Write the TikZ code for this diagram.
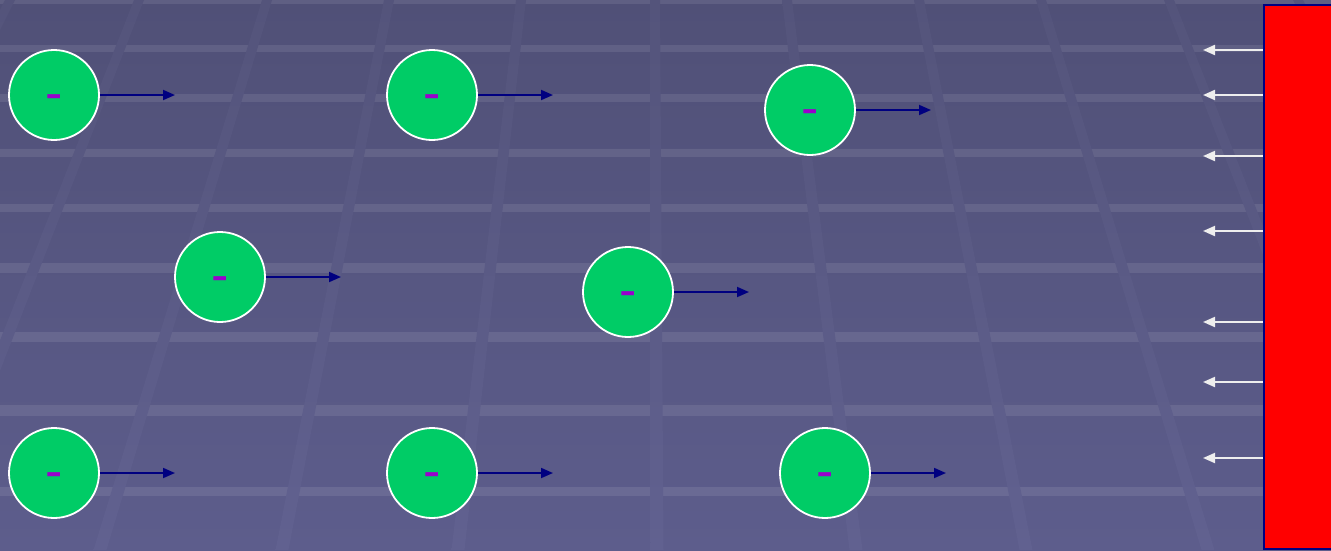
\documentclass[tikz,border=0pt]{standalone}
\usepackage{fontspec}
\setmainfont{Liberation Sans}
\usetikzlibrary{arrows.meta}
\definecolor{bgtop}{RGB}{80,80,119}
\definecolor{bgbot}{RGB}{93,93,140}
\definecolor{ltop}{RGB}{84,84,123}
\definecolor{lbot}{RGB}{97,97,144}
\definecolor{ballgreen}{RGB}{0,204,102}
\definecolor{minuspurple}{RGB}{153,0,204}
\definecolor{navyc}{RGB}{0,0,128}
\definecolor{wallred}{RGB}{255,0,0}
\definecolor{whitearrow}{RGB}{238,238,238}
\begin{document}
\begin{tikzpicture}[x=1pt,y=-1pt,
  ball/.style={circle, fill=ballgreen, draw=white, line width=1.8pt, minimum size=90pt, inner sep=0pt},
  minussign/.style={anchor=base, text=minuspurple, font=\fontsize{52}{52}\selectfont, inner sep=0pt, yshift=-15.5pt},
  pusharrow/.style={draw=navyc, line width=1.8pt, -{Triangle[length=12pt,width=10pt]}},
  fieldarrow/.style={draw=whitearrow, line width=2pt, -{Triangle[length=12pt,width=10pt]}},
  wallbox/.style={rectangle, anchor=north west, fill=wallred, draw=navyc, line width=1.5pt, minimum width=90pt, minimum height=544pt, inner sep=0pt},
  band/.style={fill=white, fill opacity=0.09}
]
\useasboundingbox (0,0) rectangle (1331,550);
\begin{scope}
\clip (0,0) rectangle (1331,550);
% background
\shade[top color=bgtop, bottom color=bgbot] (0,0) rectangle (1331,550);
% horizontal bands
\foreach \yc/\th in {2/4, 48/7, 98/8, 153/8, 208/8, 268/10, 337/10, 410/11, 491/9}
  \fill[band] (0,\yc-\th/2) rectangle (1331,\yc+\th/2);
% perspective lines
\foreach \t/\b in {10/-266, 139/-76, 267/100, 389/282, 521/458, 655/657, 787/856, 919/1026, 1041/1208, 1169/1384, 1298/1580}
  \shade[top color=ltop, bottom color=lbot] (\t-5,0) -- (\t+5,0) -- (\b+6.5,550) -- (\b-6.5,550) -- cycle;
\end{scope}

% charged wall
\node[wallbox] (wall) at (1263,4) {};
\foreach \i/\yy in {1/50, 2/95, 3/156, 4/231, 5/322, 6/382, 7/458} {
  \coordinate (w\i) at (1203,\yy);
  \draw[fieldarrow] (wall.west |- w\i) -- (w\i);
}

% electrons
\foreach \i/\xx/\yy in {1/54/95, 2/432/95, 3/810/110, 4/220/277, 5/628/292, 6/54/473, 7/432/473, 8/825/473} {
  \node[ball] (b\i) at (\xx,\yy) {};
  \node[minussign] (m\i) at (b\i.center) {-};
  \coordinate (t\i) at (\xx+121,\yy);
  \draw[pusharrow] (b\i) -- (t\i);
}
\end{tikzpicture}
\end{document}
